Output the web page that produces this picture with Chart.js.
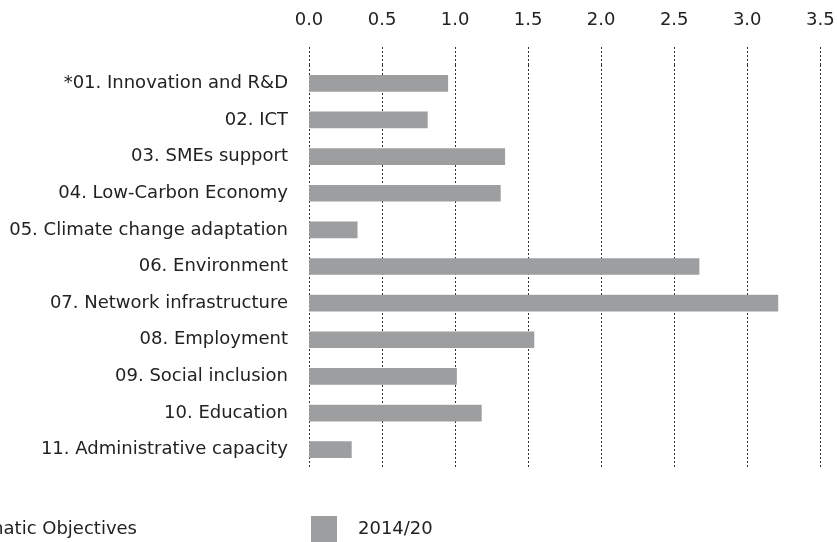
<!DOCTYPE html>
<html>
<head>
<meta charset="utf-8">
<script src="https://cdn.jsdelivr.net/npm/chart.js@4"></script>
<style>
  body { margin: 0; background: #fff; overflow: hidden; }
  #wrap { width: 837px; height: 542px; position: relative; }
</style>
</head>
<body>
<div id="wrap"><canvas id="chart"></canvas></div>
<script>
// values
const categories = [
  "*01. Innovation and R&D",
  "02. ICT",
  "03. SMEs support",
  "04. Low-Carbon Economy",
  "05. Climate change adaptation",
  "06. Environment",
  "07. Network infrastructure",
  "08. Employment",
  "09. Social inclusion",
  "10. Education",
  "11. Administrative capacity"
];
const seriesLabel = "2014/20";
const values = [0.95, 0.81, 1.34, 1.31, 0.33, 2.67, 3.21, 1.54, 1.01, 1.18, 0.29];
const xTicks = [0, 0.5, 1, 1.5, 2, 2.5, 3, 3.5];
const legendTitle = "Thematic Objectives";

const FONT = 'Verdana, "DejaVu Sans", sans-serif';
const FSIZE = 18;
const TEXT = "#222";
const BAR = "#9d9ea0";
const GRID = "#333";

// bottom legend row, drawn on the canvas
const bottomLegend = {
  id: "bottomLegend",
  afterDraw(chart) {
    const ctx = chart.ctx;
    const ds = chart.data.datasets[0];
    ctx.save();
    ctx.font = FSIZE + "px " + FONT;
    ctx.fillStyle = TEXT;
    ctx.textBaseline = "middle";
    ctx.textAlign = "right";
    ctx.fillText(legendTitle, 137, 529);
    ctx.fillStyle = ds.backgroundColor;
    ctx.fillRect(311, 516, 26, 26);
    ctx.fillStyle = TEXT;
    ctx.textAlign = "left";
    ctx.fillText(ds.label, 358, 529);
    ctx.restore();
  }
};

const ctx = document.getElementById("chart").getContext("2d");
new Chart(ctx, {
  type: "bar",
  data: {
    labels: categories,
    datasets: [{
      label: seriesLabel,
      data: values,
      backgroundColor: BAR,
      borderWidth: 0,
      barThickness: 16
    }]
  },
  options: {
    indexAxis: "y",
    responsive: true,
    maintainAspectRatio: false,
    animation: false,
    layout: { padding: { top: 11, right: 1, bottom: 74, left: 0 } },
    plugins: {
      legend: { display: false },
      tooltip: { enabled: false }
    },
    scales: {
      x: {
        position: "top",
        min: 0,
        max: 3.505, // tiny headroom so the 3.5 grid line is kept
        afterBuildTicks(scale) {
          scale.ticks = xTicks.map(v => ({ value: v }));
        },
        afterFit(scale) {
          scale.height = 54;
          scale.paddingLeft = 0;
          scale.paddingRight = 16;
        },
        ticks: {
          color: TEXT,
          font: { family: FONT, size: FSIZE },
          padding: 16,
          maxRotation: 0,
          callback: v => Number(v).toFixed(1)
        },
        grid: {
          color: GRID,
          tickBorderDash: [2, 2],
          tickColor: GRID,
          tickLength: 18,
          lineWidth: 1
        },
        border: { display: false, dash: [2, 2] }
      },
      y: {
        afterFit(scale) { scale.width = 309; },
        ticks: {
          color: TEXT,
          font: { family: FONT, size: FSIZE },
          padding: 13,
          autoSkip: false
        },
        grid: { display: false },
        border: { display: false }
      }
    }
  },
  plugins: [bottomLegend]
});
</script>
</body>
</html>
